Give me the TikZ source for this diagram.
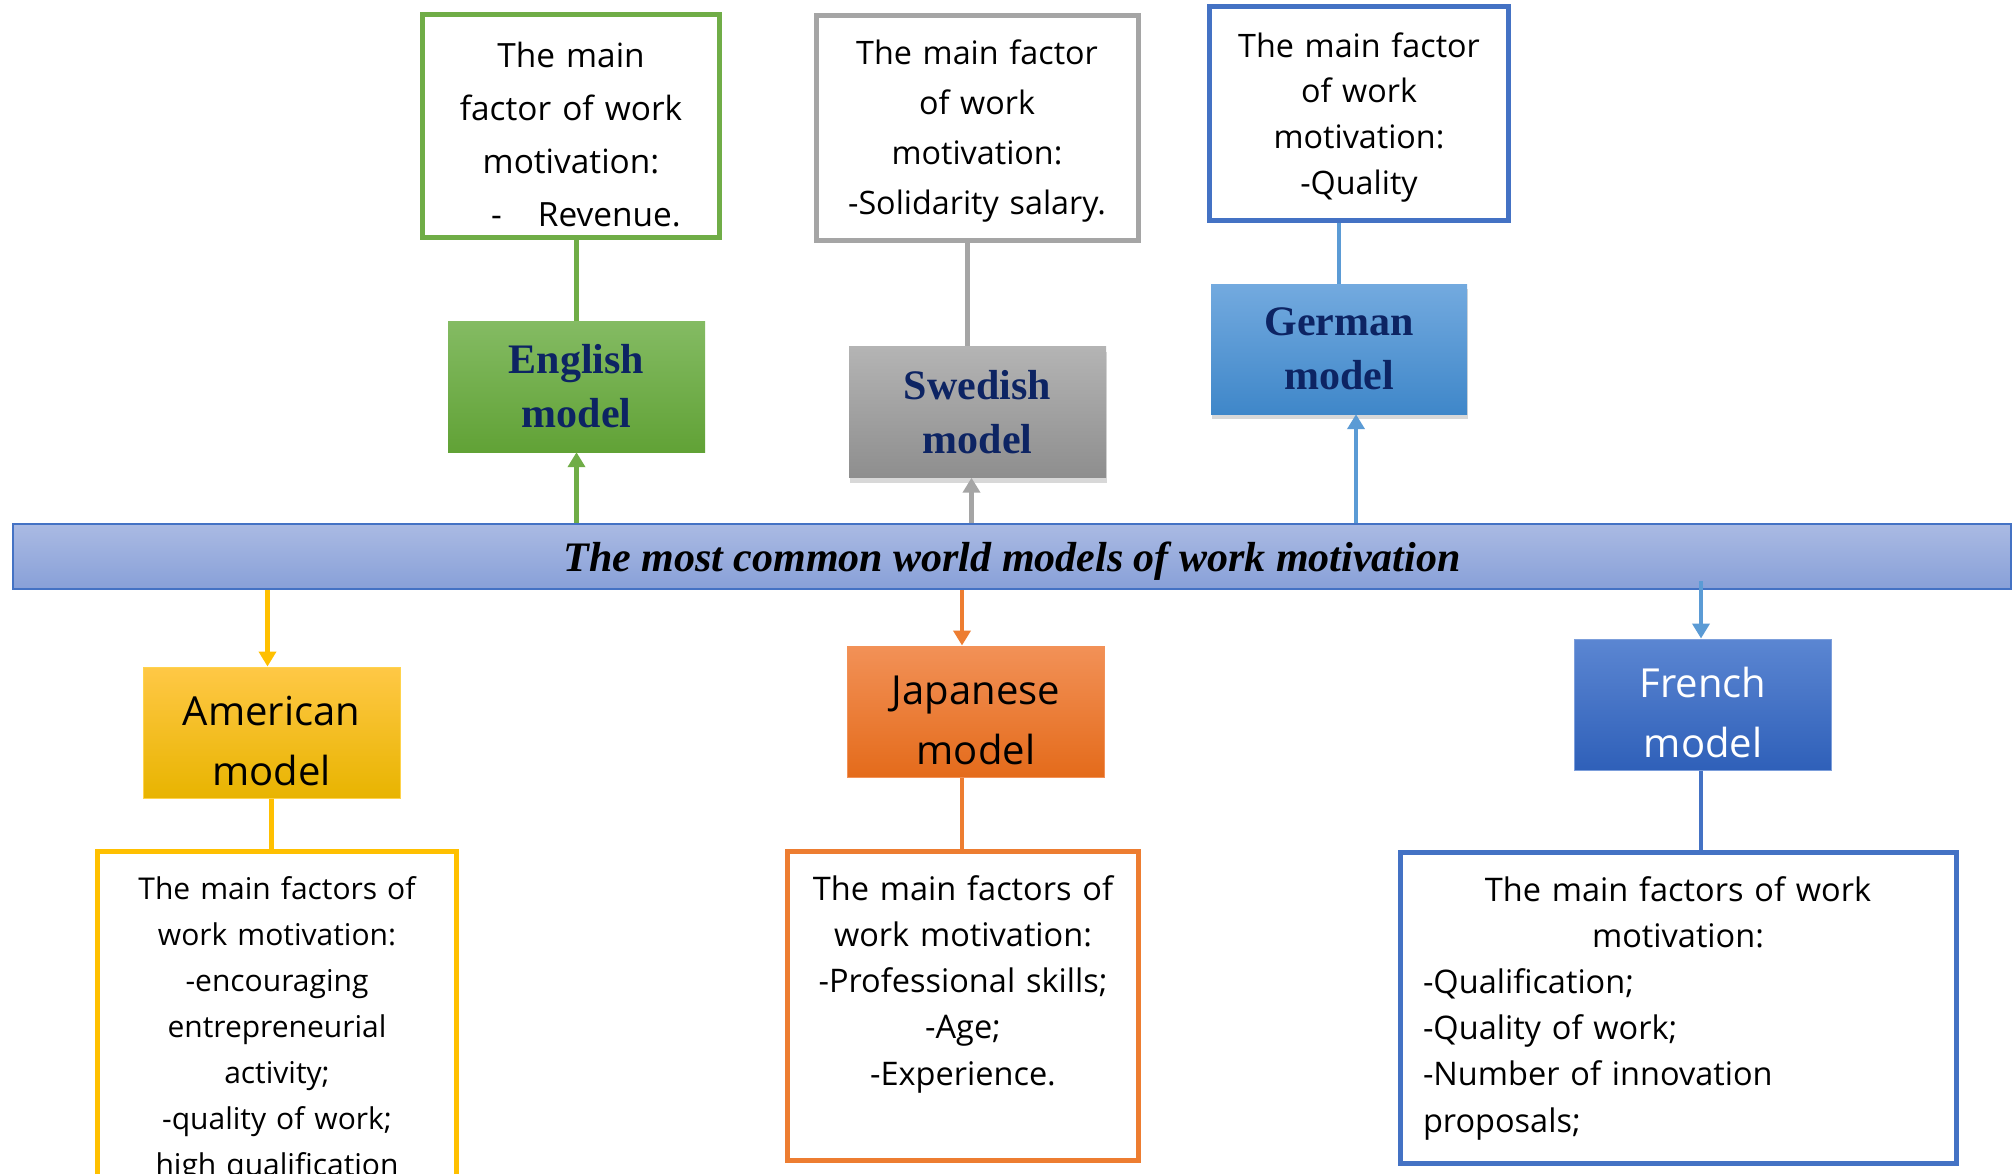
\documentclass[tikz,border=0pt]{standalone}
\usepackage{fontspec}
\setmainfont{Liberation Serif}
\newfontfamily\uifont{Open Sans}
\usetikzlibrary{arrows.meta,shadows}

\definecolor{engreen}{HTML}{70AD47}
\definecolor{engtop}{HTML}{84BB63}
\definecolor{engbot}{HTML}{61A236}
\definecolor{swgray}{HTML}{A5A5A5}
\definecolor{swtop}{HTML}{B4B4B4}
\definecolor{swbot}{HTML}{8E8E8E}
\definecolor{deblue}{HTML}{4472C4}
\definecolor{delink}{HTML}{5B9BD5}
\definecolor{detop}{HTML}{73AADF}
\definecolor{debot}{HTML}{3F87C9}
\definecolor{amgold}{HTML}{FFC000}
\definecolor{amtop}{HTML}{FFC846}
\definecolor{ambot}{HTML}{E8B400}
\definecolor{jporange}{HTML}{ED7D31}
\definecolor{jptop}{HTML}{F29157}
\definecolor{jpbot}{HTML}{E46B1B}
\definecolor{frtop}{HTML}{5B86D2}
\definecolor{frbot}{HTML}{2F60B9}
\definecolor{bartop}{HTML}{AABAE3}
\definecolor{barbot}{HTML}{88A0D8}
\definecolor{navy}{HTML}{0D2463}

\newcommand{\firstline}{\rule{0pt}{46pt}}

\tikzset{
  factorbox/.style={draw=#1, line width=5pt, fill=white, inner sep=0pt},
  modelbox/.style={inner sep=0pt, minimum width=257pt, minimum height=131pt, align=center},
  serifname/.style={font=\bfseries\fontsize{42}{54}\selectfont, text=navy},
  sansname/.style={font=\uifont\fontsize{40}{60}\selectfont},
  ftext/.style={inner sep=0pt, anchor=base, align=center, text width=#1},
  link/.style={line width=4.5pt},
  arrowlink/.style={line width=4.5pt, -{Triangle[width=17pt,length=15pt]}},
  boxshadow/.style={drop shadow={shadow xshift=1pt, shadow yshift=-5pt, opacity=0.3}},
}

\begin{document}
\begin{tikzpicture}[x=1pt,y=-1pt]
\useasboundingbox (0,0) rectangle (2015,1173);
\fill[white] (0,0) rectangle (2015,1173);
\clip (0,0) rectangle (2015,1173);

% central banner
\node[draw=deblue, line width=2.5pt, top color=bartop, bottom color=barbot,
      minimum width=1998pt, minimum height=65pt, inner sep=0pt, text depth=0pt,
      font=\bfseries\itshape\fontsize{42}{50}\selectfont] (bar) at (1012,556.5)
      {The most common world models of work motivation};

% upper models
\node[modelbox, serifname, top color=engtop, bottom color=engbot] (em) at (576.5,386.5) {English\\model};
\node[modelbox, serifname, boxshadow, top color=swtop, bottom color=swbot] (sm) at (977.5,412) {Swedish\\model};
\node[modelbox, serifname, boxshadow, top color=detop, bottom color=debot, minimum width=256pt, minimum height=130pt] (gm) at (1339,349) {German\\model};

% lower models
\node[modelbox, sansname, top color=amtop, middle color=amgold, bottom color=ambot, draw=amgold!70, line width=1pt] (am) at (271.5,732.5) {\firstline American\\model};
\node[modelbox, sansname, top color=jptop, bottom color=jpbot, draw=jptop, line width=1pt] (jm) at (976,711.5) {\firstline Japanese\\model};
\node[modelbox, sansname, text=white, top color=frtop, bottom color=frbot, draw=frtop!80, line width=1pt] (fm) at (1703,704.5) {\firstline French\\model};

% factor boxes
\node[factorbox=engreen, minimum width=297pt, minimum height=223pt] (ef) at (571,126) {};
\node[factorbox=swgray, minimum width=322pt, minimum height=225pt] (sf) at (977.5,128) {};
\node[factorbox=deblue, minimum width=299pt, minimum height=214pt] (gf) at (1359,113.5) {};
\node[factorbox=amgold, minimum width=359pt, minimum height=400pt] (af) at (277,1051.5) {};
\node[factorbox=jporange, minimum width=351pt, minimum height=309pt] (jf) at (963,1006) {};
\node[factorbox=deblue, minimum width=556pt, minimum height=311pt] (ff) at (1678.5,1008) {};

% factor texts
\node[ftext=290pt, font=\uifont\fontsize{33.4}{53.3}\selectfont] (eft) at (571,67)
  {The main\\factor of work\\motivation:\\\hspace*{30pt}-\hspace{36pt}Revenue.};
\node[ftext=315pt, font=\uifont\fontsize{32.3}{50}\selectfont] (sft) at (977,64)
  {The main factor\\of work\\motivation:\\-Solidarity salary.};
\node[ftext=290pt, font=\uifont\fontsize{32.3}{45.7}\selectfont] (gft) at (1359,57)
  {The main factor\\of work\\motivation:\\-Quality};
\node[ftext=345pt, font=\uifont\fontsize{30}{46}\selectfont] (aft) at (277,899)
  {The main factors of\\work motivation:\\-encouraging\\entrepreneurial\\activity;\\-quality of work;\\high qualification};
\node[ftext=340pt, font=\uifont\fontsize{32.5}{46.3}\selectfont] (jft) at (963,900)
  {The main factors of\\work motivation:\\-Professional skills;\\-Age;\\-Experience.};
\node[ftext=510pt, align=left, font=\uifont\fontsize{32.5}{46.2}\selectfont] (fft) at (1678,901)
  {\makebox[510pt]{The main factors of work}\\\makebox[510pt]{motivation:}\\-Qualification;\\-Quality of work;\\-Number of innovation\\proposals;};

% connectors above the banner
\draw[link, engreen] (ef.south -| em.north) -- (em.north);
\draw[arrowlink, engreen] (em.south |- bar.north) -- (em.south);
\draw[link, swgray] ([xshift=-10pt]sm.north |- sf.south) -- ([xshift=-10pt]sm.north);
\draw[arrowlink, swgray] ([xshift=-6pt]sm.south |- bar.north) -- ([xshift=-6pt]sm.south);
\draw[link, delink] (gf.south -| gm.north) -- (gm.north);
\draw[arrowlink, delink] ([xshift=17pt]gm.south |- bar.north) -- ([xshift=17pt]gm.south);

% connectors below the banner
\draw[arrowlink, amgold] ([xshift=-4pt]am.north |- bar.south) -- ([xshift=-4pt]am.north);
\draw[link, amgold] (am.south) -- (am.south |- af.north);
\draw[arrowlink, jporange] ([xshift=-14pt]jm.north |- bar.south) -- ([xshift=-14pt]jm.north);
\draw[link, jporange] ([xshift=-14pt]jm.south) -- ([xshift=-14pt]jm.south |- jf.north);
\draw[arrowlink, delink] ([xshift=-2pt,yshift=9pt]fm.north |- bar.south) -- ([xshift=-2pt]fm.north);
\draw[link, deblue] ([xshift=-2pt]fm.south) -- ([xshift=-2pt]fm.south |- ff.north);
\end{tikzpicture}
\end{document}
